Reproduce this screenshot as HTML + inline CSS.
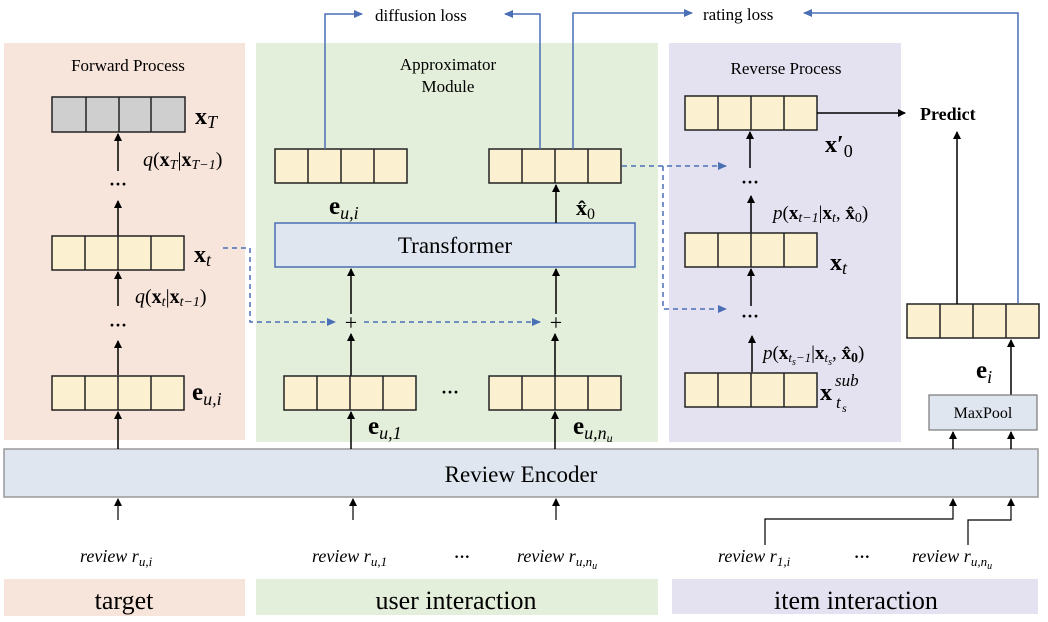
<!DOCTYPE html>
<html><head><meta charset="utf-8"><style>
body{margin:0;background:#fff}
svg{display:block;font-family:"Liberation Serif",serif}
.b{font-weight:bold}
.i{font-style:italic}
</style></head><body>
<svg width="1048" height="622" viewBox="0 0 1048 622" xmlns="http://www.w3.org/2000/svg">
<defs>
<marker id="ak" markerWidth="8" markerHeight="8" refX="7" refY="4" orient="auto" markerUnits="userSpaceOnUse"><path d="M0,0 L8,4 L0,8 z" fill="#000"/></marker>
<marker id="ab" markerWidth="9" markerHeight="8" refX="8" refY="4" orient="auto" markerUnits="userSpaceOnUse"><path d="M0,0 L9,4 L0,8 z" fill="#4a6fb5"/></marker>
<g id="box"><rect x="0" y="0" width="132" height="34" fill="#fbf0cf" stroke="#222" stroke-width="1.5"/><line x1="33" y1="0" x2="33" y2="34" stroke="#222" stroke-width="1.5"/><line x1="66" y1="0" x2="66" y2="34" stroke="#222" stroke-width="1.5"/><line x1="99" y1="0" x2="99" y2="34" stroke="#222" stroke-width="1.5"/></g>
</defs>
<rect x="4" y="43" width="241" height="397" fill="#f7e4da"/>
<rect x="256" y="43" width="402" height="399" fill="#e3efda"/>
<rect x="669" y="43" width="232" height="399" fill="#e4e2f0"/>
<rect x="4" y="579" width="241" height="37" fill="#f7e4da"/>
<rect x="256" y="579" width="402" height="36" fill="#e3efda"/>
<rect x="672" y="579" width="366" height="35" fill="#e4e2f0"/>
<text x="124" y="609" font-size="26" text-anchor="middle">target</text>
<text x="456" y="609" font-size="26" text-anchor="middle">user interaction</text>
<text x="856" y="609" font-size="26" text-anchor="middle">item interaction</text>
<rect x="4" y="449" width="1034" height="48" fill="#dfe6f0" stroke="#999" stroke-width="1.5"/>
<text x="521" y="482" font-size="23" text-anchor="middle">Review Encoder</text>
<!-- forward -->
<text x="128" y="71" font-size="17" text-anchor="middle">Forward Process</text>
<rect x="52" y="97" width="133" height="35" fill="#cfcfcf" stroke="#222" stroke-width="1.5"/>
<line x1="86" y1="97" x2="86" y2="132" stroke="#222" stroke-width="1.5"/><line x1="119" y1="97" x2="119" y2="132" stroke="#222" stroke-width="1.5"/><line x1="151" y1="97" x2="151" y2="132" stroke="#222" stroke-width="1.5"/>
<text x="195" y="124" font-size="24" class="b">x<tspan class="i" font-weight="normal" font-size="18" dy="4">T</tspan></text>
<line x1="118" y1="171" x2="118" y2="134" stroke="#000" stroke-width="1.5" marker-end="url(#ak)"/>
<text x="143" y="166" font-size="20"><tspan class="i">q</tspan>(<tspan class="b">x</tspan><tspan class="i" font-size="14" dy="3">T</tspan><tspan dy="-3">|</tspan><tspan class="b">x</tspan><tspan class="i" font-size="14" dy="3">T−1</tspan><tspan dy="-3">)</tspan></text>
<text x="118" y="190" font-size="18" text-anchor="middle" class="b">···</text>
<line x1="118" y1="236" x2="118" y2="201" stroke="#000" stroke-width="1.5" marker-end="url(#ak)"/>
<use href="#box" x="52" y="236"/>
<text x="194" y="262" font-size="24" class="b">x<tspan class="i" font-weight="normal" font-size="18" dy="4">t</tspan></text>
<line x1="118" y1="306" x2="118" y2="272" stroke="#000" stroke-width="1.5" marker-end="url(#ak)"/>
<text x="135" y="303" font-size="20"><tspan class="i">q</tspan>(<tspan class="b">x</tspan><tspan class="i" font-size="14" dy="3">t</tspan><tspan dy="-3">|</tspan><tspan class="b">x</tspan><tspan class="i" font-size="14" dy="3">t−1</tspan><tspan dy="-3">)</tspan></text>
<text x="118" y="331" font-size="18" text-anchor="middle" class="b">···</text>
<line x1="118" y1="375" x2="118" y2="341" stroke="#000" stroke-width="1.5" marker-end="url(#ak)"/>
<use href="#box" x="52" y="376"/>
<text x="192" y="400" font-size="25" class="b">e<tspan class="i" font-weight="normal" font-size="18" dy="5">u,i</tspan></text>
<line x1="118" y1="449" x2="118" y2="412" stroke="#000" stroke-width="1.5" marker-end="url(#ak)"/>
<!-- approximator -->
<text x="448" y="70" font-size="17" text-anchor="middle">Approximator</text>
<text x="448" y="92" font-size="17" text-anchor="middle">Module</text>
<use href="#box" x="275" y="149"/>
<text x="329" y="214" font-size="25" class="b">e<tspan class="i" font-weight="normal" font-size="18" dy="5">u,i</tspan></text>
<use href="#box" x="489" y="149"/>
<rect x="275" y="223" width="360" height="44" fill="#dfe6f0" stroke="#4a6fb5" stroke-width="1.5"/>
<text x="455" y="253" font-size="23" text-anchor="middle">Transformer</text>
<line x1="556" y1="223" x2="556" y2="185" stroke="#000" stroke-width="1.5" marker-end="url(#ak)"/>
<text x="576" y="215" font-size="22" class="b">x̂<tspan font-weight="normal" font-size="16" dy="4">0</tspan></text>
<text x="351" y="330" font-size="22" text-anchor="middle">+</text>
<text x="556" y="330" font-size="22" text-anchor="middle">+</text>
<line x1="351" y1="314" x2="351" y2="269" stroke="#000" stroke-width="1.5" marker-end="url(#ak)"/>
<line x1="556" y1="314" x2="556" y2="269" stroke="#000" stroke-width="1.5" marker-end="url(#ak)"/>
<line x1="351" y1="376" x2="351" y2="334" stroke="#000" stroke-width="1.5" marker-end="url(#ak)"/>
<line x1="555" y1="376" x2="555" y2="334" stroke="#000" stroke-width="1.5" marker-end="url(#ak)"/>
<use href="#box" x="284" y="376"/>
<use href="#box" x="489" y="376"/>
<text x="450" y="398" font-size="18" text-anchor="middle" class="b">···</text>
<text x="368" y="434" font-size="25" class="b">e<tspan class="i" font-weight="normal" font-size="18" dy="5">u,1</tspan></text>
<text x="573" y="434" font-size="25" class="b">e<tspan class="i" font-weight="normal" font-size="18" dy="5">u,n<tspan font-size="12" dy="3">u</tspan></tspan></text>
<line x1="351" y1="449" x2="351" y2="412" stroke="#000" stroke-width="1.5" marker-end="url(#ak)"/>
<line x1="555" y1="449" x2="555" y2="412" stroke="#000" stroke-width="1.5" marker-end="url(#ak)"/>
<!-- dashed -->
<polyline points="223,248 250,248 250,322 335,322" fill="none" stroke="#4a6fb5" stroke-width="1.5" stroke-dasharray="5,4" marker-end="url(#ab)"/>
<line x1="364" y1="322" x2="540" y2="322" stroke="#4a6fb5" stroke-width="1.5" stroke-dasharray="5,4" marker-end="url(#ab)"/>
<line x1="622" y1="166" x2="726" y2="166" stroke="#4a6fb5" stroke-width="1.5" stroke-dasharray="5,4" marker-end="url(#ab)"/>
<polyline points="663,166 663,309 726,309" fill="none" stroke="#4a6fb5" stroke-width="1.5" stroke-dasharray="5,4" marker-end="url(#ab)"/>
<!-- losses -->
<polyline points="325,149 325,14 362,14" fill="none" stroke="#4a6fb5" stroke-width="1.5" marker-end="url(#ab)"/>
<text x="375" y="21" font-size="17">diffusion loss</text>
<polyline points="540,149 540,14 505,14" fill="none" stroke="#4a6fb5" stroke-width="1.5" marker-end="url(#ab)"/>
<polyline points="573,149 573,13 692,13" fill="none" stroke="#4a6fb5" stroke-width="1.5" marker-end="url(#ab)"/>
<text x="703" y="20" font-size="17">rating loss</text>
<polyline points="1018,303 1018,13 804,13" fill="none" stroke="#4a6fb5" stroke-width="1.5" marker-end="url(#ab)"/>
<!-- reverse -->
<text x="786" y="74" font-size="17" text-anchor="middle">Reverse Process</text>
<use href="#box" x="685" y="96"/>
<line x1="817" y1="113" x2="905" y2="113" stroke="#000" stroke-width="1.5" marker-end="url(#ak)"/>
<text x="920" y="120" font-size="18" class="b">Predict</text>
<text x="825" y="152" font-size="24" class="b">x′<tspan font-weight="normal" font-size="18" dy="5">0</tspan></text>
<text x="750" y="188" font-size="18" text-anchor="middle" class="b">···</text>
<line x1="750" y1="168" x2="750" y2="132" stroke="#000" stroke-width="1.5" marker-end="url(#ak)"/>
<line x1="751" y1="233" x2="751" y2="196" stroke="#000" stroke-width="1.5" marker-end="url(#ak)"/>
<text x="773" y="219" font-size="19"><tspan class="i">p</tspan>(<tspan class="b">x</tspan><tspan class="i" font-size="14" dy="3">t−1</tspan><tspan dy="-3">|</tspan><tspan class="b">x</tspan><tspan class="i" font-size="14" dy="3">t</tspan><tspan dy="-3">, </tspan><tspan class="b">x̂</tspan><tspan font-size="14" dy="3">0</tspan><tspan dy="-3">)</tspan></text>
<use href="#box" x="685" y="233"/>
<text x="830" y="270" font-size="24" class="b">x<tspan class="i" font-weight="normal" font-size="18" dy="4">t</tspan></text>
<line x1="751" y1="306" x2="751" y2="269" stroke="#000" stroke-width="1.5" marker-end="url(#ak)"/>
<text x="750" y="322" font-size="18" text-anchor="middle" class="b">···</text>
<line x1="752" y1="372" x2="752" y2="336" stroke="#000" stroke-width="1.5" marker-end="url(#ak)"/>
<text x="763" y="359" font-size="19"><tspan class="i">p</tspan>(<tspan class="b">x</tspan><tspan class="i" font-size="13" dy="3">t</tspan><tspan class="i" font-size="10" dy="3">s</tspan><tspan class="i" font-size="13" dy="-3">−1</tspan><tspan dy="-3">|</tspan><tspan class="b">x</tspan><tspan class="i" font-size="13" dy="3">t</tspan><tspan class="i" font-size="10" dy="3">s</tspan><tspan dy="-6">, </tspan><tspan class="b">x̂</tspan><tspan class="b" font-size="14" dy="3">0</tspan><tspan dy="-3">)</tspan></text>
<use href="#box" x="685" y="373"/>
<text x="820" y="400" font-size="24" class="b">x</text>
<text x="836" y="408" font-size="17" class="i">t</text>
<text x="842" y="412" font-size="12" class="i">s</text>
<text x="835" y="386" font-size="17" class="i">sub</text>
<!-- right -->
<use href="#box" x="907" y="304"/>
<line x1="957" y1="304" x2="957" y2="132" stroke="#000" stroke-width="1.5" marker-end="url(#ak)"/>
<text x="976" y="378" font-size="25" class="b">e<tspan class="i" font-weight="normal" font-size="18" dy="5">i</tspan></text>
<line x1="1011" y1="395" x2="1011" y2="340" stroke="#000" stroke-width="1.5" marker-end="url(#ak)"/>
<rect x="929" y="395" width="108" height="35" fill="#dfe6f0" stroke="#777" stroke-width="1.2"/>
<text x="983" y="418" font-size="16" text-anchor="middle">MaxPool</text>
<line x1="953" y1="449" x2="953" y2="432" stroke="#000" stroke-width="1.5" marker-end="url(#ak)"/>
<line x1="1011" y1="449" x2="1011" y2="432" stroke="#000" stroke-width="1.5" marker-end="url(#ak)"/>
<!-- review inputs -->
<line x1="118" y1="520" x2="118" y2="499" stroke="#000" stroke-width="1.2" marker-end="url(#ak)"/>
<line x1="353" y1="520" x2="353" y2="499" stroke="#000" stroke-width="1.2" marker-end="url(#ak)"/>
<line x1="556" y1="520" x2="556" y2="499" stroke="#000" stroke-width="1.2" marker-end="url(#ak)"/>
<polyline points="765,545 765,519 953,519 953,499" fill="none" stroke="#000" stroke-width="1.2" marker-end="url(#ak)"/>
<polyline points="968,545 968,520 1011,520 1011,499" fill="none" stroke="#000" stroke-width="1.2" marker-end="url(#ak)"/>
<g font-size="18" class="i">
<text x="80" y="562">review r<tspan font-size="13" dy="4">u,i</tspan></text>
<text x="312" y="562">review r<tspan font-size="13" dy="4">u,1</tspan></text>
<text x="517" y="562">review r<tspan font-size="13" dy="4">u,n<tspan font-size="10" dy="3">u</tspan></tspan></text>
<text x="718" y="562">review r<tspan font-size="13" dy="4">1,i</tspan></text>
<text x="912" y="562">review r<tspan font-size="13" dy="4">u,n<tspan font-size="10" dy="3">u</tspan></tspan></text>
</g>
<text x="462" y="562" font-size="16" text-anchor="middle" class="b">···</text>
<text x="862" y="562" font-size="16" text-anchor="middle" class="b">···</text>
</svg>
</body></html>
